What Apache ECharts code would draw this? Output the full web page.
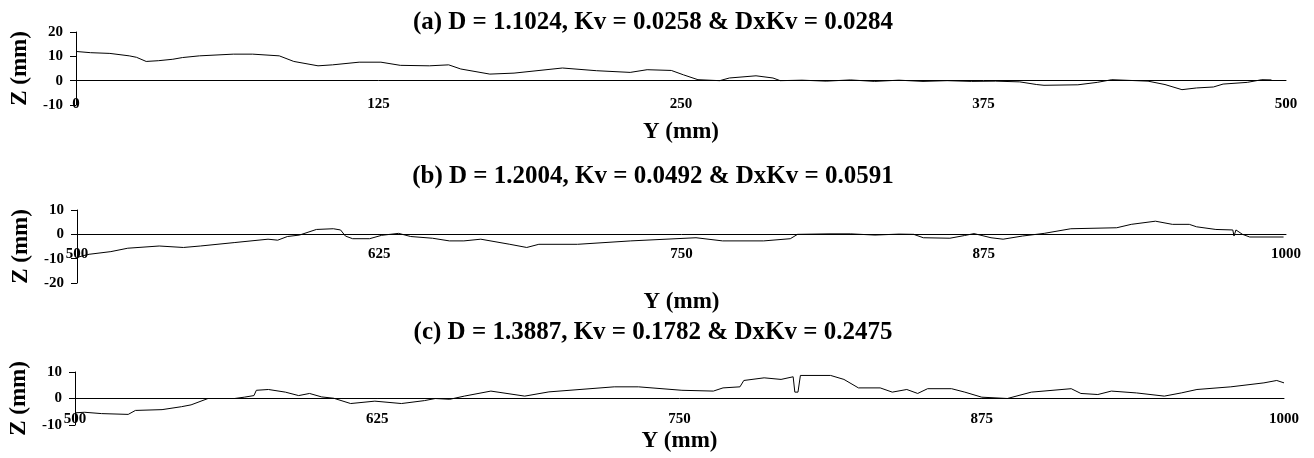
<!DOCTYPE html>
<html>
<head>
<meta charset="utf-8">
<script src="https://cdn.jsdelivr.net/npm/echarts@6/dist/echarts.min.js"></script>
<style>
  html, body { margin: 0; padding: 0; background: #fff }
  #main-chart { width: 1314px; height: 458px }
</style>
</head>
<body>
<div id="main-chart"></div>
<script>
const titles = [
  '(a) D = 1.1024, Kv = 0.0258 & DxKv = 0.0284',
  '(b) D = 1.2004, Kv = 0.0492 & DxKv = 0.0591',
  '(c) D = 1.3887, Kv = 0.1782 & DxKv = 0.2475'
]

// (a) 0 - 500 mm
const aY = [0, 6, 14, 22, 25, 29, 34, 40, 44, 51, 65, 73, 84, 90, 100, 106, 117, 126, 134, 146,
  154, 159, 171, 181, 201, 215, 229, 236, 246, 251, 257, 266, 270, 281, 288, 291, 300, 310, 320, 330,
  340, 350, 360, 370, 380, 390, 397, 400, 414, 422, 428, 443, 450, 457, 463, 470, 474, 484, 490, 494]
const aZ = [12, 11.5, 11.2, 10.2, 9.6, 7.9, 8.2, 8.8, 9.5, 10.2, 10.9, 10.9, 10.2, 7.9, 6.1, 6.5, 7.6, 7.6, 6.3, 6.1,
  6.5, 4.8, 2.7, 3.1, 5.2, 4.1, 3.4, 4.5, 4.2, 2.4, 0.4, 0, 1.1, 2, 1.1, 0, 0.2, -0.2, 0.3, -0.3,
  0.2, -0.3, 0, -0.3, -0.2, -0.5, -1.6, -1.9, -1.7, -0.7, 0.4, -0.2, -1.6, -3.7, -3, -2.6, -1.4, -0.7, 0.4, 0.3]

// (b) 500 - 1000 mm
const bY = [500, 502.5, 505, 514, 521, 534, 544, 551, 565, 579, 583, 587, 592, 599, 606, 609, 611, 614, 621, 626,
  633, 638, 647, 654, 660, 667, 679, 686, 691, 707, 729, 756, 767, 784, 795, 798, 811, 820, 830, 840,
  846, 850, 861, 867, 871, 878, 883, 891, 900, 911, 930, 936, 946, 953, 960, 963, 971, 978, 978.5, 979.3,
  982, 985, 999]
const bZ = [-9.5, -8.8, -8.2, -7.1, -5.7, -4.8, -5.4, -4.8, -3.4, -2, -2.4, -0.9, -0.3, 2, 2.3, 1.8, -0.7, -1.8, -1.8, -0.4,
  0.4, -0.9, -1.6, -2.7, -2.7, -2, -4.1, -5.4, -4.1, -4.1, -2.7, -1.4, -2.7, -2.7, -1.8, 0, 0.2, 0.2, -0.3, 0.1,
  0, -1.4, -1.6, -0.5, 0.3, -1.4, -2, -0.7, 0.4, 2.3, 2.7, 4.1, 5.4, 4.1, 4.1, 3.1, 2, 1.8, -0.7, 1.8,
  0, -1.1, -1.1]

// (c) 500 - 1000 mm
const cY = [500, 504, 511, 522, 525, 536, 544, 548, 555, 566, 570, 574, 575, 580, 587, 592.5, 597, 602, 607, 614,
  624, 635, 644.5, 649, 655, 661, 672, 686, 696, 723, 733, 751, 764, 768, 775, 776.6, 785, 792, 797, 797.7,
  799, 800, 812.5, 818, 824, 833, 838, 844, 848.5, 852.6, 862.5, 868, 875, 885.6, 895.5, 912, 916, 923, 928.6, 939,
  950.5, 957.5, 964, 978, 991.7, 997, 1000]
const cZ = [-5.4, -5.2, -5.7, -6, -4.5, -4.2, -3.1, -2.4, 0, 0, 0.5, 1.1, 3.1, 3.4, 2.4, 1.1, 1.9, 0.6, 0.1, -1.9,
  -1, -1.9, -0.8, 0, -0.3, 0.9, 2.8, 0.9, 2.5, 4.4, 4.4, 3.1, 2.8, 4, 4.4, 6.8, 7.8, 7.2, 8.2, 2.4,
  2.4, 8.7, 8.7, 7.2, 4, 4, 2.4, 3.4, 1.9, 3.7, 3.7, 2.4, 0.5, 0, 2.4, 3.7, 1.9, 1.5, 2.8, 2.1,
  0.9, 2.1, 3.4, 4.4, 5.9, 6.8, 5.9]

const FONT = 'Liberation Serif'
const pair = (xs, zs) => xs.map((x, i) => [x, zs[i]])

// per panel layout; labels sit just under the zero line, so margins go negative
const panels = [
  { data: pair(aY, aZ), grid: { left: 76, right: 28, top: 32, height: 73 }, x: [0, 500], z: [-10, 20], titleTop: 5, labelGap: -8, nameGap: 16 },
  { data: pair(bY, bZ), grid: { left: 77, right: 28, top: 210, height: 73 }, x: [500, 1000], z: [-20, 10], titleTop: 159, labelGap: -36, nameGap: 8 },
  { data: pair(cY, cZ), grid: { left: 73, right: 30, top: 372, height: 53 }, x: [500, 1000], z: [-10, 10], titleTop: 315, labelGap: -13, nameGap: 5 }
]

const chart = echarts.init(document.getElementById('main-chart'))
chart.setOption({
  backgroundColor: '#fff',
  animation: false,
  title: panels.map((p, i) => ({
    text: titles[i],
    left: 648,
    top: p.titleTop,
    textAlign: 'center',
    textStyle: { fontFamily: FONT, fontWeight: 'bold', fontSize: 25, color: '#000' }
  })),
  grid: panels.map(p => p.grid),
  xAxis: panels.map((p, i) => ({
    type: 'value',
    gridIndex: i,
    min: p.x[0],
    max: p.x[1],
    interval: 125,
    name: 'Y (mm)',
    nameLocation: 'middle',
    nameGap: p.nameGap,
    nameTextStyle: { fontFamily: FONT, fontWeight: 'bold', fontSize: 23, color: '#000' },
    axisLine: { onZero: true, lineStyle: { color: '#000', width: 1 } },
    axisTick: { show: false },
    axisLabel: { margin: p.labelGap, formatter: v => String(v), fontFamily: FONT, fontWeight: 'bold', fontSize: 15, color: '#000' },
    splitLine: { show: false }
  })),
  yAxis: panels.map((p, i) => ({
    type: 'value',
    gridIndex: i,
    min: p.z[0],
    max: p.z[1],
    interval: 10,
    name: 'Z (mm)',
    nameLocation: 'middle',
    nameRotate: 90,
    nameGap: 44,
    nameTextStyle: { fontFamily: FONT, fontWeight: 'bold', fontSize: 23, color: '#000' },
    axisLine: { show: true, onZero: false, lineStyle: { color: '#000', width: 1 } },
    axisTick: { show: true, length: 6, lineStyle: { color: '#000' } },
    axisLabel: { margin: 13, fontFamily: FONT, fontWeight: 'bold', fontSize: 15, color: '#000' },
    splitLine: { show: false }
  })),
  series: panels.map((p, i) => ({
    type: 'line',
    xAxisIndex: i,
    yAxisIndex: i,
    data: p.data,
    showSymbol: false,
    lineStyle: { color: '#000', width: 1 },
    itemStyle: { color: '#000' }
  }))
})
</script>
</body>
</html>
